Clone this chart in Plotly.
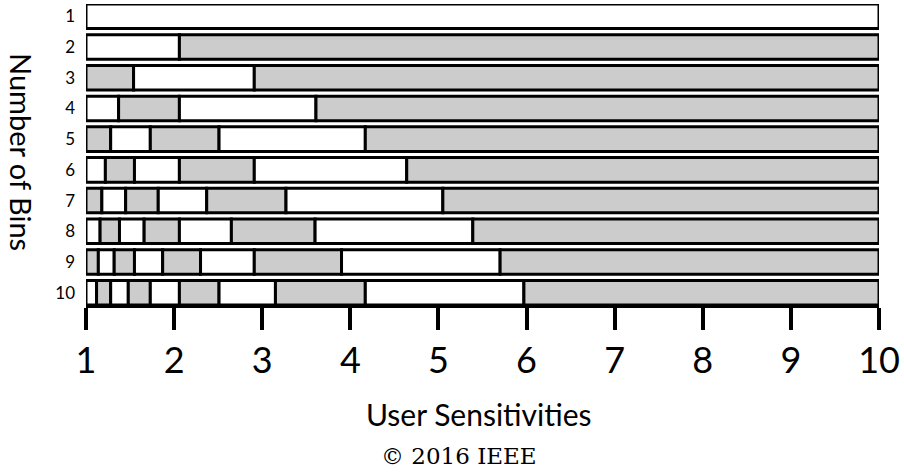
import plotly.graph_objects as go

# ---- data ----
bins = [1, 2, 3, 4, 5, 6, 7, 8, 9, 10]
edges_1 = [1, 10]
edges_2 = [1, 2.06, 10]
edges_3 = [1, 1.54, 2.91, 10]
edges_4 = [1, 1.37, 2.06, 3.61, 10]
edges_5 = [1, 1.28, 1.73, 2.51, 4.17, 10]
edges_6 = [1, 1.22, 1.55, 2.06, 2.91, 4.64, 10]
edges_7 = [1, 1.18, 1.45, 1.82, 2.37, 3.27, 5.05, 10]
edges_8 = [1, 1.16, 1.38, 1.66, 2.06, 2.65, 3.60, 5.39, 10]
edges_9 = [1, 1.14, 1.32, 1.55, 1.87, 2.30, 2.91, 3.90, 5.70, 10]
edges_10 = [1, 1.12, 1.28, 1.48, 1.73, 2.06, 2.51, 3.15, 4.17, 5.97, 10]
x_ticks = [1, 2, 3, 4, 5, 6, 7, 8, 9, 10]

all_edges = [edges_1, edges_2, edges_3, edges_4, edges_5,
             edges_6, edges_7, edges_8, edges_9, edges_10]

WHITE = "#ffffff"
GRAY = "#cccccc"
SANS = "Lato, 'Open Sans', sans-serif"

fig = go.Figure()
for n, edges in zip(bins, all_edges):
    starts = edges[:-1]
    widths = [b - a for a, b in zip(edges[:-1], edges[1:])]
    if n == 1:
        colors = [WHITE]
    else:
        colors = [GRAY if (n - j) % 2 == 1 else WHITE for j in range(len(starts))]
    fig.add_trace(go.Bar(
        y=[n] * len(starts), x=widths, base=starts, orientation="h",
        marker=dict(color=colors, line=dict(color="black", width=3)),
        width=0.8, showlegend=False, hoverinfo="skip", cliponaxis=False,
    ))

T, B, L, R = 4, 170, 86, 25
H = 475 - T - B
W = 904 - L - R

def py(p):
    return (475 - B - p) / H

def px(p):
    return (p - L) / W

fig.update_layout(
    width=904, height=475, barmode="overlay",
    margin=dict(l=L, r=R, t=T, b=B, autoexpand=False),
    plot_bgcolor="white", paper_bgcolor="white",
    xaxis=dict(range=[1, 10], tickvals=x_ticks, ticks="outside", ticklen=22,
               tickwidth=4, tickcolor="black", showline=True, linewidth=3,
               linecolor="black", showgrid=False, zeroline=False,
               automargin=False,
               tickfont=dict(family=SANS, size=36, color="black")),
    yaxis=dict(range=[10.4, 0.6], tickvals=bins, ticktext=[str(b) for b in bins],
               showgrid=False, zeroline=False, showline=False, ticks="",
               ticklabelstandoff=10, automargin=False,
               tickfont=dict(family=SANS, size=17, color="black")),
    annotations=[
        dict(text="User Sensitivities", xref="paper", yref="paper",
             x=px(479), y=py(414), xanchor="center", yanchor="middle",
             showarrow=False, font=dict(family=SANS, size=30, color="black")),
        dict(text="Number of Bins", xref="paper", yref="paper", textangle=90,
             x=px(22), y=py(152), xanchor="center", yanchor="middle",
             showarrow=False, font=dict(family=SANS, size=29, color="black")),
        dict(text="© 2016 IEEE", xref="paper", yref="paper",
             x=px(459), y=py(456), xanchor="center", yanchor="middle",
             showarrow=False, font=dict(family="'DejaVu Serif', serif", size=23, color="black")),
    ],
)

fig.write_html("out.html", config={"displayModeBar": False},
               post_script="document.body.style.margin='0px';")
